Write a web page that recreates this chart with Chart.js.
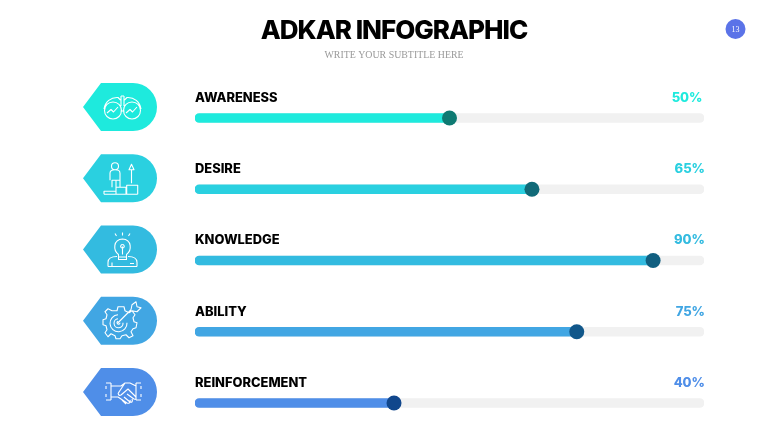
<!DOCTYPE html>
<html>
<head>
<meta charset="utf-8">
<title>ADKAR Infographic</title>
<script src="https://cdn.jsdelivr.net/npm/chart.js@4/dist/chart.umd.min.js"></script>
<style>
  html, body { margin: 0; padding: 0; background: #fff; overflow: hidden; height: 433px; }
  canvas { display: block; }
</style>
</head>
<body>
<canvas id="chart" width="780" height="433"></canvas>
<script>
const categories = ["AWARENESS", "DESIRE", "KNOWLEDGE", "ABILITY", "REINFORCEMENT"];
const percentLabels = ["50%", "65%", "90%", "75%", "40%"];
const rows = [0, 1, 2, 3, 4];
// where the bar ends in the picture (differs a little from the printed label)
const barValues = [50, 66.2, 90, 75, 39.1];
const trackValues = [100, 100, 100, 100, 100];

const barColors = ["#1eeadd", "#2ad0e0", "#33bbe0", "#41a6e3", "#4f8ee8"];
const knobColors = ["#0e7a72", "#116a78", "#115f80", "#11578a", "#11478c"];
// the first percentage sits a bit further left in the slide
const percentRight = [702.5, 705, 705, 705, 705];

// Little outline icons, drawn around the middle of each badge
const icons = [
  "M-17 2C-16-5-10-10-3-9.5L-.5-7M20 2C19-5 13-10 6-9.5L3.5-7M0-11V-1M3-11V-1M0-11H3M-.5 4H3.5" +
    "M-14 6L-10 2.5-7.5 5-3 0M5 6L9 2.5 11.5 5 16 0" +
    "M.5 3.5A8.5 8.5 0 1 1-16.5 3.5A8.5 8.5 0 1 1 .5 3.5M19.5 3.5A8.5 8.5 0 1 1 2.5 3.5A8.5 8.5 0 1 1 19.5 3.5",
  "M-2.5-12A3.5 3.5 0 1 1-9.5-12A3.5 3.5 0 1 1-2.5-12M-11 2V-5C-11-8-9-8.5-6-8.5S-1-8-1-5V2H-9V9M-5 2V9H-1V2" +
    "M-17 16V13H-5M-5 16V9H5V16M5.7 16V7H16.7V16M-17 16H16.7M10.5 5V-9M8-8.5L10.5-14 13-8.5Z",
  "M-2.5 5C-8 1-8-10 1.5-10.5C11-10 11 1 5.5 5V10H-2.5ZM-2.5 7.5H5.5M1.5-5A1.8 1.8 0 1 1 1.4-5M1.5-3V5M-6-16L-4.5-13.5M1.5-17V-14M9-16L7.5-13.5" +
    "M-13 17V13C-13 9-9 7-4 7M16 17V13C16 9 12 7 7 7M-13 17H16M-9 13V17M9 14H13",
  "M-4-10L-3-14H3L4-10 8-8 11-10 14-6 12-3 13 1 16 2 15 7 12 8 10 11 12 15 8 17 5 14 1 15-1 18H-5L-6 15-10 13-13 16-16 12-14 9-15 5-18 4-18-1-15-2-14-6-16-9-13-12-9-10Z" +
    "M6 2A8.5 8.5 0 1 1-3-6M2 2A4.5 4.5 0 1 1-3-2M-1 2A1.5 1.5 0 1 1-3 .5M-3 2L10-11M10-11L11-16 15-19 16-14 20-13 16-9 11-10",
  "M-10-9V8M-15-9H-10M-15 8H-10M-15-6V-3M-15 2V5M15-9V8M20-9H15M20 8H15M20-6V-3M20 2V5" +
    "M-10-6H0L4-9H9L15-6M-10 5H-3L6 11C8 12 10 10 9 8M1 8L5 12M3 5L9 10C11 11 12 9 11 7M6 2L13 7C15 8 16 6 14 4L7-3 0 3C-2 4-4 2-2 0L4-9"
];

// Badges, row names and percentages are painted around the chart's own rows
const decorations = {
  id: "decorations",
  afterDraw(chart) {
    const { ctx, scales } = chart;
    categories.forEach((name, i) => {
      const y = scales.y.getPixelForValue(rows[i]);
      const cy = y - 11;

      // badge: arrow tip on the left, round on the right
      ctx.save();
      ctx.fillStyle = barColors[i];
      ctx.beginPath();
      ctx.moveTo(83, cy);
      ctx.lineTo(101, cy - 24);
      ctx.lineTo(133, cy - 24);
      ctx.arc(133, cy, 24, -Math.PI / 2, Math.PI / 2);
      ctx.lineTo(101, cy + 24);
      ctx.closePath();
      ctx.fill();

      ctx.translate(121, cy);
      ctx.strokeStyle = "#fff";
      ctx.lineWidth = 1.1;
      ctx.lineJoin = "round";
      ctx.stroke(new Path2D(icons[i]));
      ctx.restore();

      ctx.save();
      ctx.textBaseline = "middle";
      ctx.font = "800 12.9px Inter";
      ctx.fillStyle = "#000";
      ctx.textAlign = "left";
      ctx.fillText(name, scales.x.getPixelForValue(0), y - 20);
      ctx.fillStyle = barColors[i];
      ctx.textAlign = "right";
      ctx.font = "800 13px Inter";
      ctx.fillText(percentLabels[i], percentRight[i], y - 20);
      ctx.restore();
    });

    // heading
    ctx.save();
    ctx.textAlign = "center";
    ctx.textBaseline = "middle";
    ctx.fillStyle = "#000";
    ctx.font = "800 26px Inter";
    ctx.letterSpacing = "-1px";
    ctx.fillText("ADKAR INFOGRAPHIC", 394, 31.5);
    ctx.letterSpacing = "0px";
    ctx.fillStyle = "#999";
    ctx.font = "9.9px 'Liberation Serif'";
    ctx.fillText("WRITE YOUR SUBTITLE HERE", 394, 55);

    // page number
    ctx.fillStyle = "#5b73e8";
    ctx.beginPath();
    ctx.arc(735.5, 29, 10, 0, Math.PI * 2);
    ctx.fill();
    ctx.fillStyle = "#fff";
    ctx.font = "8px 'Liberation Serif'";
    ctx.fillText("13", 735.5, 29.5);
    ctx.restore();
  }
};

const toPoints = (values) => values.map((v, i) => ({ x: v, y: rows[i] }));

new Chart(document.getElementById("chart"), {
  type: "bar",
  data: {
    datasets: [
      {
        type: "line",
        indexAxis: "y",
        data: toPoints(barValues),
        showLine: false,
        pointRadius: 7.5,
        pointHoverRadius: 7.5,
        pointBorderWidth: 0,
        pointBackgroundColor: knobColors,
        clip: false,
        order: 0,
      },
      {
        data: toPoints(barValues),
        backgroundColor: barColors,
        barThickness: 9,
        borderRadius: 5,
        borderSkipped: false,
        grouped: false,
        order: 1,
      },
      {
        data: toPoints(trackValues),
        backgroundColor: "#f1f1f1",
        barThickness: 9,
        borderRadius: 5,
        borderSkipped: false,
        grouped: false,
        order: 2,
      },
    ],
  },
  options: {
    indexAxis: "y",
    responsive: false,
    animation: false,
    // the knobs would otherwise push the plot area in
    layout: { autoPadding: false, padding: { left: 195, right: 76, top: 0, bottom: 0 } },
    scales: {
      x: { type: "linear", display: false, min: 0, max: 100 },
      // rows are 71.25px apart, first one 118px down the slide
      y: { type: "linear", display: false, reverse: true, offset: false, min: -1.656, max: 4.421 },
    },
    plugins: {
      legend: { display: false },
      tooltip: { enabled: false },
      title: { display: false },
    },
  },
  plugins: [decorations],
});
</script>
</body>
</html>
